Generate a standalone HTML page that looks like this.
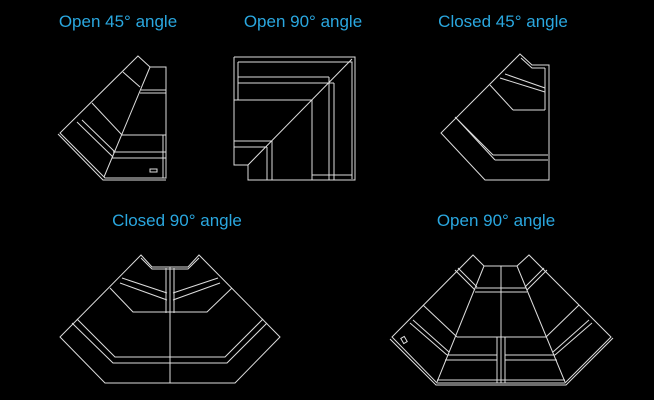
<!DOCTYPE html>
<html><head><style>
html,body{margin:0;padding:0;background:#000;}
body{width:654px;height:400px;overflow:hidden;position:relative;}
.t{position:absolute;color:#2aa7df;font-family:"Liberation Sans",sans-serif;font-size:17px;transform:translateX(-50%);white-space:nowrap;}
svg{position:absolute;left:0;top:0;}
</style></head><body>
<div class="t" style="left:118px;top:12px">Open 45° angle</div>
<div class="t" style="left:303px;top:12px">Open 90° angle</div>
<div class="t" style="left:503px;top:12px">Closed 45° angle</div>
<div class="t" style="left:177px;top:211px">Closed 90° angle</div>
<div class="t" style="left:496px;top:211px">Open 90° angle</div>
<svg width="654" height="400" fill="none" stroke="#ddd" stroke-width="1">
<!-- 1 -->
<polygon points="138,56 150,67 166,67 166,178 105,178 60,133"/>
<polyline points="58,134 103,180 166,180"/>
<line x1="150" y1="67" x2="104" y2="177"/>
<line x1="141" y1="90" x2="166" y2="90"/><line x1="140" y1="93" x2="166" y2="93"/>
<line x1="122" y1="135" x2="166" y2="135"/><line x1="113" y1="152" x2="166" y2="152"/><line x1="112" y1="158" x2="166" y2="158"/>
<line x1="163" y1="135" x2="163" y2="178"/>
<line x1="123" y1="72" x2="140" y2="87"/><line x1="92" y1="103" x2="122" y2="135"/>
<line x1="77" y1="122" x2="113" y2="157"/><line x1="82" y1="120" x2="115" y2="152"/>
<rect x="150" y="169" width="7" height="3"/>
<!-- 2 -->
<polyline points="234,57 355,57 355,180 248,180 248,165 234,165 234,57"/>
<polyline points="238,62 352,62 352,179"/>
<line x1="238" y1="62" x2="238" y2="100"/>
<line x1="238" y1="77" x2="329" y2="77"/><line x1="238" y1="83" x2="334" y2="83"/>
<line x1="234" y1="100" x2="312" y2="100"/>
<line x1="312" y1="100" x2="312" y2="180"/>
<line x1="329" y1="77" x2="329" y2="180"/><line x1="334" y1="83" x2="334" y2="180"/>
<line x1="312" y1="175" x2="352" y2="175"/>
<line x1="248" y1="165" x2="352" y2="59"/>
<line x1="234" y1="141" x2="272" y2="141"/><line x1="234" y1="147" x2="267" y2="147"/>
<line x1="272" y1="141" x2="272" y2="180"/><line x1="267" y1="147" x2="267" y2="180"/>
<!-- 3 -->
<polygon points="520,54 532,65 549,65 549,180 485,180 441,133"/>
<polyline points="521,58 532,68 545,68"/>
<line x1="490" y1="85" x2="513" y2="110"/><line x1="513" y1="110" x2="545" y2="110"/>
<line x1="545" y1="68" x2="545" y2="110"/>
<line x1="500" y1="78" x2="545" y2="92"/><line x1="505" y1="74" x2="545" y2="88"/>
<line x1="455" y1="117" x2="493" y2="155"/><line x1="493" y1="155" x2="548" y2="155"/>
<line x1="458" y1="120" x2="495" y2="160"/><line x1="495" y1="160" x2="548" y2="160"/>
<!-- 4 -->
<polygon points="141,255 152,267 188,267 199,255 280,337 235,383 105,383 60,337"/>
<polyline points="141,258 152,269 188,269 199,258"/>
<line x1="170" y1="267" x2="170" y2="383"/>
<line x1="166" y1="268" x2="166" y2="313"/><line x1="174" y1="268" x2="174" y2="313"/>
<polyline points="110,288 133,312 207,312 232,288"/>
<line x1="122" y1="278" x2="167" y2="293"/><line x1="120" y1="283" x2="167" y2="300"/>
<line x1="218" y1="278" x2="173" y2="293"/><line x1="220" y1="283" x2="173" y2="300"/>
<polyline points="77,319 115,357 225,357 263,319"/>
<polyline points="72,323 113,363 227,363 267,323"/>
<!-- 5 -->
<polygon points="473,255 484,266 517,266 529,255 611,337 565,383 437,383 392,337"/>
<polyline points="390,339 436,385 566,385 613,338"/>
<line x1="484" y1="266" x2="437" y2="382"/><line x1="517" y1="266" x2="565" y2="382"/>
<line x1="501" y1="266" x2="501" y2="383"/>
<line x1="476" y1="288" x2="526" y2="288"/><line x1="475" y1="292" x2="527" y2="292"/>
<line x1="455" y1="270" x2="475" y2="290"/><line x1="458" y1="268" x2="477" y2="287"/>
<line x1="547" y1="270" x2="527" y2="290"/><line x1="544" y1="268" x2="525" y2="287"/>
<line x1="423" y1="305" x2="457" y2="337"/><line x1="457" y1="337" x2="546" y2="337"/>
<line x1="579" y1="305" x2="546" y2="337"/>
<line x1="410" y1="323" x2="447" y2="355"/><line x1="413" y1="320" x2="449" y2="352"/>
<line x1="592" y1="323" x2="555" y2="355"/><line x1="589" y1="320" x2="553" y2="352"/>
<line x1="447" y1="355" x2="497" y2="355"/><line x1="505" y1="355" x2="555" y2="355"/>
<line x1="445" y1="360" x2="497" y2="360"/><line x1="505" y1="360" x2="557" y2="360"/>
<line x1="497" y1="337" x2="497" y2="383"/><line x1="505" y1="337" x2="505" y2="383"/>
<line x1="437" y1="380" x2="565" y2="380"/>
<rect x="402" y="337" width="4" height="6" transform="rotate(-30 404 340)"/>
</svg>
</body></html>
